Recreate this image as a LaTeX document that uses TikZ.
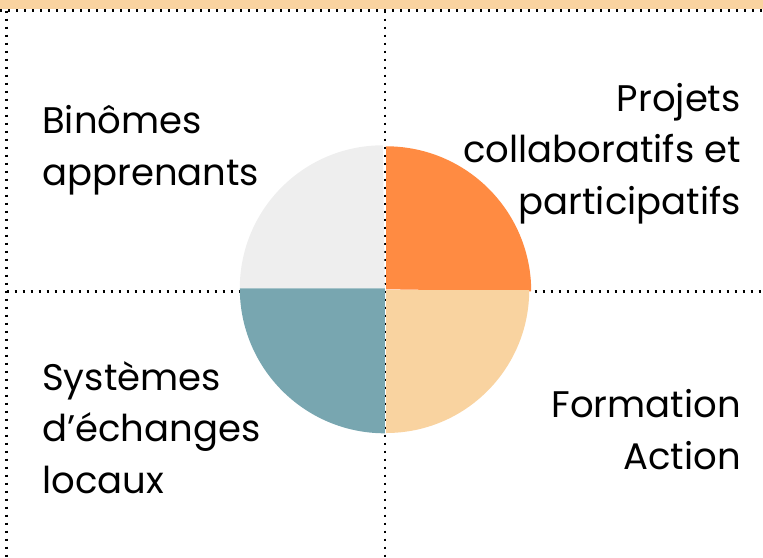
\documentclass[tikz,border=0pt]{standalone}
\usepackage{fontspec}
\setmainfont{Poppins}
\definecolor{bandpeach}{HTML}{F9D3A0}
\definecolor{qgray}{HTML}{EEEEEE}
\definecolor{qorange}{HTML}{FF8B42}
\definecolor{qpeach}{HTML}{F9D3A0}
\definecolor{qblue}{HTML}{78A6B0}
\begin{document}
\begin{tikzpicture}[x=0.75pt,y=-0.75pt,
  dotline/.style={line width=1.6pt, dash pattern=on 1.6pt off 4.4pt, black},
  lbl/.style={font=\fontsize{27.75}{38.5}\selectfont, inner sep=0pt, text=black}]
\useasboundingbox (0,0) rectangle (763,557);
\fill[bandpeach] (0,0) rectangle (763,9);
\coordinate (tl) at (0,10.5);
\coordinate (tr) at (763,10.5);
\coordinate (lt) at (6.5,10.5);
\coordinate (lb) at (6.5,557);
\coordinate (vt) at (385,10.5);
\coordinate (vb) at (385,557);
\coordinate (hl) at (6.5,291.5);
\coordinate (hr) at (763,291.5);
\draw[dotline] (tl) -- (tr);
\draw[dotline] (lt) -- (lb);
\draw[dotline] (vt) -- (vb);
\draw[dotline] (hl) -- (hr);
\fill[qgray] (384.8,288.3) -- ++(180:145) arc[start angle=180, end angle=270, radius=143] -- cycle;
\fill[qorange] (386.2,289.3) -- ++(270:143) arc[start angle=270, end angle=360, radius=145] -- cycle;
\fill[qpeach] (386.2,290) -- ++(0:143) arc[start angle=0, end angle=90, radius=143] -- cycle;
\fill[qblue] (384.8,288.3) -- ++(90:145) arc[start angle=90, end angle=180, radius=145] -- cycle;
\node[lbl, anchor=base west, align=left] (binomes) at (42,185) {Binômes\\apprenants};
\node[lbl, anchor=base east, align=right] (projets) at (741,214) {Projets\\collaboratifs et\\participatifs};
\node[lbl, anchor=base west, align=left] (systemes) at (42,493) {Systèmes\\d’échanges\\locaux};
\node[lbl, anchor=base east, align=right] (formation) at (741,469) {Formation\\Action};
\end{tikzpicture}
\end{document}
